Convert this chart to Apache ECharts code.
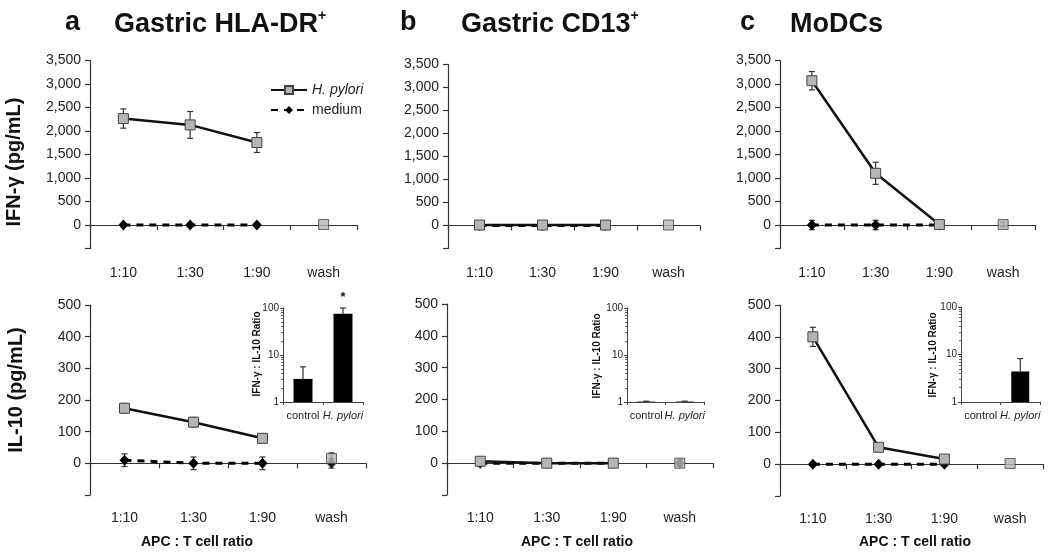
<!DOCTYPE html>
<html><head><meta charset="utf-8">
<script src="https://cdn.jsdelivr.net/npm/echarts@6/dist/echarts.min.js"></script>
<style>html,body{margin:0;padding:0;background:#fff}#c{width:1050px;height:552px}</style>
</head><body><div id="c"></div>
<script>
const categories = ['1:10', '1:30', '1:90', 'wash'];
const ratioCategories = ['control', 'H. pylori'];

// Panel a – Gastric HLA-DR+
const aIfnHp = [2265, 2130, 1755, 10];
const aIfnHpErr = [205, 285, 212, 0];
const aIfnMed = [0, 0, 0, null];
const aIfnMedErr = [0, 0, 0, 0];
const aIl10Hp = [174, 130, 79, 15];
const aIl10HpErr = [15, 15, 14, 18];
const aIl10Med = [10, 0, 0, 0];
const aIl10MedErr = [20, 20, 20, 15];
const aRatio = [3.1, 75];
const aRatioErr = [2.5, 25];
const aRatioSig = ['', '*'];

// Panel b – Gastric CD13+
const bIfnHp = [10, 10, 10, 10];
const bIfnHpErr = [0, 0, 0, 0];
const bIfnMed = [0, 0, 0, null];
const bIfnMedErr = [0, 0, 0, 0];
const bIl10Hp = [6, 0, 0, 0];
const bIl10HpErr = [8, 8, 8, 10];
const bIl10Med = [0, 0, 0, 0];
const bIl10MedErr = [10, 10, 10, 10];
const bRatio = [1.02, 1.02];
const bRatioErr = [0.02, 0.02];
const bRatioSig = ['', ''];

// Panel c – MoDCs
const cIfnHp = [3070, 1100, 10, 10];
const cIfnHpErr = [195, 235, 60, 50];
const cIfnMed = [0, 0, 0, null];
const cIfnMedErr = [100, 100, 0, 0];
const cIl10Hp = [400, 53, 16, 2];
const cIl10HpErr = [30, 0, 0, 0];
const cIl10Med = [0, 0, 0, null];
const cIl10MedErr = [0, 0, 0, 0];
const cRatio = [null, 4.4];
const cRatioErr = [0, 3.8];
const cRatioSig = ['', ''];

const FONT = "'Liberation Sans', Arial, Helvetica, sans-serif";
const AX = '#333';

const panels = [
  {g: {left: 90, top: 60.5, width: 267, height: 188}, kind: 'ifn', hp: aIfnHp, hpErr: aIfnHpErr, med: aIfnMed, medErr: aIfnMedErr},
  {g: {left: 90, top: 305, width: 276, height: 190}, kind: 'il10', hp: aIl10Hp, hpErr: aIl10HpErr, med: aIl10Med, medErr: aIl10MedErr},
  {g: {left: 448, top: 64.5, width: 252, height: 184}, kind: 'ifn', hp: bIfnHp, hpErr: bIfnHpErr, med: bIfnMed, medErr: bIfnMedErr},
  {g: {left: 447, top: 304, width: 266, height: 191}, kind: 'il10', hp: bIl10Hp, hpErr: bIl10HpErr, med: bIl10Med, medErr: bIl10MedErr},
  {g: {left: 780, top: 60.5, width: 255, height: 188}, kind: 'ifn', hp: cIfnHp, hpErr: cIfnHpErr, med: cIfnMed, medErr: cIfnMedErr},
  {g: {left: 780, top: 305, width: 263, height: 191}, kind: 'il10', hp: cIl10Hp, hpErr: cIl10HpErr, med: cIl10Med, medErr: cIl10MedErr}
];
const insets = [
  {g: {left: 283, top: 308, width: 80, height: 94}, v: aRatio, e: aRatioErr, s: aRatioSig, bw: 19},
  {g: {left: 627, top: 308, width: 77, height: 94}, v: bRatio, e: bRatioErr, s: bRatioSig, bw: 18},
  {g: {left: 961, top: 307, width: 79, height: 95}, v: cRatio, e: cRatioErr, s: cRatioSig, bw: 18}
];

const grid = [], xAxis = [], yAxis = [], series = [];

function errRender(oneSided) {
  return function (params, api) {
    const x = api.value(0);
    const lo = api.coord([x, api.value(1)]);
    const hi = api.coord([x, api.value(2)]);
    const cw = 3;
    const st = {stroke: '#333', lineWidth: 1.2};
    const ch = [
      {type: 'line', shape: {x1: lo[0], y1: lo[1], x2: hi[0], y2: hi[1]}, style: st},
      {type: 'line', shape: {x1: hi[0] - cw, y1: hi[1], x2: hi[0] + cw, y2: hi[1]}, style: st}
    ];
    if (!oneSided) ch.push({type: 'line', shape: {x1: lo[0] - cw, y1: lo[1], x2: lo[0] + cw, y2: lo[1]}, style: st});
    return {type: 'group', children: ch};
  };
}

panels.forEach((p, k) => {
  grid.push(Object.assign({containLabel: false}, p.g));
  const isIfn = p.kind === 'ifn';
  xAxis.push({
    type: 'category', gridIndex: k, data: categories, boundaryGap: true,
    axisLine: {lineStyle: {color: AX, width: 1.2}},
    axisTick: {show: true, length: 5, interval: 0, lineStyle: {color: AX, width: 1.2}},
    axisLabel: {fontFamily: FONT, fontSize: 14, color: '#222', margin: isIfn ? 18 : 16, interval: 0},
    splitLine: {show: false}
  });
  yAxis.push({
    type: 'value', gridIndex: k,
    min: isIfn ? -500 : -100, max: isIfn ? 3500 : 500, interval: isIfn ? 500 : 100,
    axisLine: {show: true, lineStyle: {color: AX, width: 1.2}},
    axisTick: {show: true, length: 5, lineStyle: {color: AX, width: 1.2}},
    axisLabel: {fontFamily: FONT, fontSize: 14, color: '#222', margin: 9,
      formatter: v => v < 0 ? '' : v.toLocaleString('en-US')},
    splitLine: {show: false}
  });
  const mkErr = (vals, errs) => vals.map((v, i) => (v == null || !errs[i]) ? null : [i, v - errs[i], v + errs[i]]).filter(d => d);
  series.push({
    type: 'custom', xAxisIndex: k, yAxisIndex: k, z: 1, silent: true,
    renderItem: errRender(false), encode: {x: 0, y: [1, 2]},
    data: mkErr(p.med, p.medErr).concat(mkErr(p.hp, p.hpErr))
  });
  series.push({
    name: 'medium', type: 'line', xAxisIndex: k, yAxisIndex: k, z: 2,
    data: p.med.map((v, i) => i < 3 && v != null ? v : '-'),
    symbol: 'diamond', symbolSize: [10, 11], showSymbol: true,
    itemStyle: {color: '#000'},
    lineStyle: {color: '#000', width: 3, type: [7, 6]}
  });
  series.push({
    name: 'medium wash', type: 'scatter', xAxisIndex: k, yAxisIndex: k, z: 2,
    data: p.med.map((v, i) => i === 3 && v != null ? v : '-'),
    symbol: 'diamond', symbolSize: [10, 11], itemStyle: {color: '#000'}
  });
  series.push({
    name: 'H. pylori', type: 'line', xAxisIndex: k, yAxisIndex: k, z: 3,
    data: p.hp.map((v, i) => i < 3 && v != null ? v : '-'),
    symbol: 'rect', symbolSize: 10, showSymbol: true,
    itemStyle: {color: '#b5b5b5', borderColor: '#444', borderWidth: 1},
    lineStyle: {color: '#111', width: 2.5}
  });
  series.push({
    name: 'H. pylori wash', type: 'scatter', xAxisIndex: k, yAxisIndex: k, z: 3,
    data: p.hp.map((v, i) => i === 3 && v != null ? v : '-'),
    symbol: 'rect', symbolSize: 10,
    itemStyle: {color: '#b5b5b5', borderColor: '#444', borderWidth: 1}
  });
});

insets.forEach((q, j) => {
  const k = grid.length;
  grid.push(Object.assign({containLabel: false}, q.g));
  xAxis.push({
    type: 'category', gridIndex: k, data: ratioCategories, boundaryGap: true,
    axisLine: {lineStyle: {color: '#444', width: 1}},
    axisTick: {show: true, length: 3, interval: 0, lineStyle: {color: '#444'}},
    axisLabel: {fontFamily: FONT, fontSize: 11, color: '#222', margin: 8, interval: 0,
      formatter: v => v === 'H. pylori' ? '{i|' + v + '}' : v,
      rich: {i: {fontStyle: 'italic', fontFamily: FONT, fontSize: 11, color: '#222'}}}
  });
  yAxis.push({
    type: 'log', logBase: 10, gridIndex: k, min: 1, max: 100,
    axisLine: {show: true, lineStyle: {color: '#444', width: 1}},
    axisTick: {show: true, length: 3, lineStyle: {color: '#444'}},
    minorTick: {show: true, splitNumber: 9, length: 2, lineStyle: {color: '#666'}},
    axisLabel: {fontFamily: FONT, fontSize: 10, color: '#222', margin: 4},
    splitLine: {show: false}
  });
  series.push({
    type: 'bar', xAxisIndex: k, yAxisIndex: k, barWidth: q.bw, z: 2,
    itemStyle: {color: '#000'},
    data: q.v.map((v, i) => ({
      value: v == null ? '-' : v,
      label: {show: !!q.s[i], formatter: q.s[i], position: 'top', distance: 10,
        fontSize: 13, fontWeight: 'bold', color: '#111', fontFamily: FONT}
    }))
  });
  series.push({
    type: 'custom', xAxisIndex: k, yAxisIndex: k, z: 1, silent: true,
    renderItem: errRender(true), encode: {x: 0, y: [1, 2]},
    data: q.v.map((v, i) => (v == null || !q.e[i]) ? null : [i, v, v + q.e[i]]).filter(d => d)
  });
});

const titleStyle = {fontFamily: FONT, fontSize: 27, fontWeight: 'bold', color: '#111'};
const supRich = {
  t: {fontFamily: FONT, fontSize: 27, fontWeight: 'bold', color: '#111', lineHeight: 31},
  s: {fontFamily: FONT, fontSize: 14, fontWeight: 'bold', color: '#111', verticalAlign: 'top', lineHeight: 31, padding: [0, 0, 10, 0]}
};
const title = [
  {text: 'a', left: 60, top: 4, textStyle: titleStyle},
  {text: '{t|Gastric HLA-DR}{s|+}', left: 109, top: 4, textStyle: {rich: supRich}},
  {text: 'b', left: 395, top: 4, textStyle: titleStyle},
  {text: '{t|Gastric CD13}{s|+}', left: 456, top: 4, textStyle: {rich: supRich}},
  {text: 'c', left: 735, top: 4, textStyle: titleStyle},
  {text: '{t|MoDCs}', left: 785, top: 4, textStyle: {rich: supRich}}
];

const vText = (txt, x, y, size) => ({
  type: 'text', x: x, y: y, rotation: Math.PI / 2,
  style: {text: txt, align: 'center', verticalAlign: 'middle', fill: '#111',
    font: 'bold ' + size + 'px ' + FONT}
});
const hText = (txt, x, y) => ({
  type: 'text', x: x, y: y,
  style: {text: txt, align: 'center', verticalAlign: 'middle', fill: '#111', font: 'bold 14px ' + FONT}
});
const graphic = [
  vText('IFN-\u03b3 (pg/mL)', 14, 162, 20),
  vText('IL-10 (pg/mL)', 16, 390, 20),
  vText('IFN-\u03b3 : IL-10 Ratio', 257, 354, 10),
  vText('IFN-\u03b3 : IL-10 Ratio', 597, 356, 10),
  vText('IFN-\u03b3 : IL-10 Ratio', 933, 355, 10),
  hText('APC : T cell ratio', 197, 542),
  hText('APC : T cell ratio', 577, 542),
  hText('APC : T cell ratio', 915, 542)
];

const chart = echarts.init(document.getElementById('c'), null, {renderer: 'canvas'});
chart.setOption({
  backgroundColor: '#fff',
  animation: false,
  title: title,
  legend: {
    data: ['H. pylori', 'medium'], orient: 'vertical', left: 265, top: 78,
    itemWidth: 36, itemHeight: 10, itemGap: 6, selectedMode: false,
    textStyle: {fontFamily: FONT, fontSize: 14, color: '#222',
      rich: {i: {fontStyle: 'italic', fontFamily: FONT, fontSize: 14, color: '#222'}}},
    formatter: n => n === 'H. pylori' ? '{i|H. pylori}' : n
  },
  grid: grid, xAxis: xAxis, yAxis: yAxis, series: series, graphic: graphic
});
</script></body></html>
